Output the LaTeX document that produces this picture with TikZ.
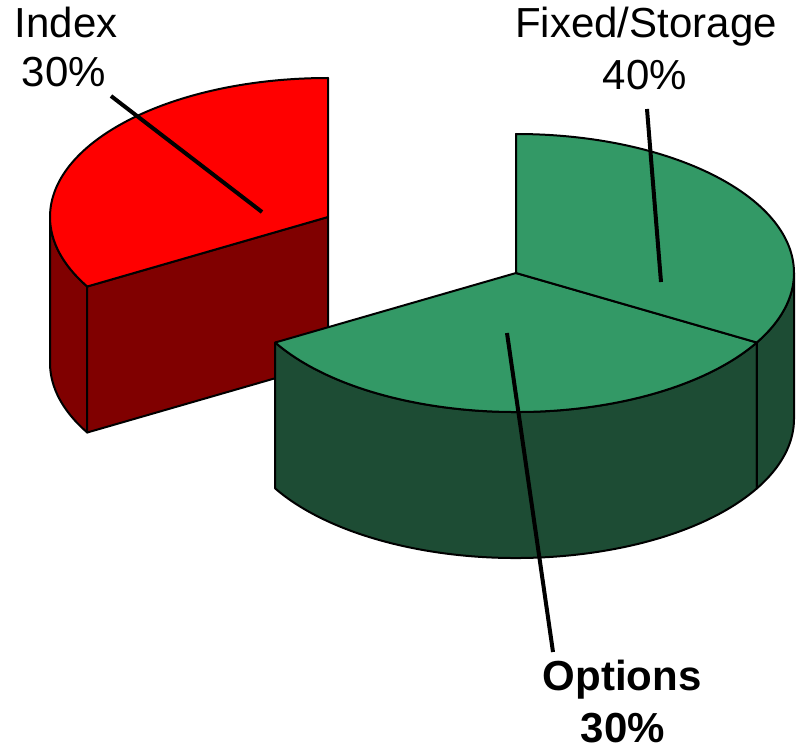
\documentclass[tikz,border=0pt]{standalone}
\usepackage{fontspec}
\setmainfont{Liberation Sans}
\usetikzlibrary{calc}
\definecolor{redtop}{RGB}{255,0,0}
\definecolor{redside}{RGB}{128,0,0}
\definecolor{greentop}{RGB}{51,153,102}
\definecolor{greenside}{RGB}{29,76,52}
\tikzset{
  face/.style={draw=black, line width=2pt, line join=round},
  ell/.style={x radius=278pt, y radius=139pt},
  leader/.style={draw=black, line width=4pt},
  lbl/.style={font=\fontsize{42}{48}\selectfont, anchor=base, inner sep=0pt, text depth=0pt},
  lblb/.style={font=\fontsize{42}{48}\selectfont\bfseries, anchor=base, inner sep=0pt, text depth=0pt},
}
\begin{document}
\begin{tikzpicture}[x=1pt,y=1pt]
\useasboundingbox (0,0) rectangle (798,-749);
% centres
\coordinate (rc) at (328,-217);
\coordinate (gc) at (516,-273);
% rim points
\path (rc) ++(90:278pt and 139pt) coordinate (rT);
\path (rc) ++(180:278pt and 139pt) coordinate (rL);
\path (rc) ++(210:278pt and 139pt) coordinate (rA);
\path (gc) ++(90:278pt and 139pt) coordinate (gT);
\path (gc) ++(210:278pt and 139pt) coordinate (gA);
\path (gc) ++(330:278pt and 139pt) coordinate (gB);
% red slice (Index)
\path[face, fill=redside] (rL) arc[start angle=180, end angle=210, ell]
  -- ++(0,-146) arc[start angle=210, end angle=180, ell] -- cycle;
\path[face, fill=redside] (rA) -- (rc) -- ++(0,-146) -- ($(rA)+(0,-146)$) -- cycle;
\path[face, fill=redtop] (rc) -- (rT) arc[start angle=90, end angle=210, ell] -- cycle;
% green slices
\path[face, fill=greenside] (gA) arc[start angle=210, end angle=330, ell]
  -- ++(0,-146) arc[start angle=330, end angle=210, ell] -- cycle;
\path[face, fill=greenside] (gB) arc[start angle=330, end angle=360, ell]
  -- ++(0,-146) arc[start angle=360, end angle=330, ell] -- cycle;
\path[face, fill=greentop] (gc) -- (gA) arc[start angle=210, end angle=330, ell] -- cycle;
\path[face, fill=greentop] (gc) -- (gT) arc[start angle=90, end angle=-30, ell] -- cycle;
% leaders
\coordinate (idxA) at (111,-96);
\coordinate (idxB) at (262,-212);
\coordinate (fixA) at (647,-109);
\coordinate (fixB) at (661,-282);
\coordinate (optA) at (507,-333);
\coordinate (optB) at (553,-652);
\draw[leader] (idxA) -- (idxB);
\draw[leader] (fixA) -- (fixB);
\draw[leader] (optA) -- (optB);
% labels
\node[lbl] (idx1) at (66,-38) {Index};
\node[lbl] (idx2) at (64,-87) {30\%};
\node[lbl] (fix1) at (646,-38) {Fixed/Storage};
\node[lbl] (fix2) at (645,-90) {40\%};
\node[lblb] (opt1) at (622,-690) {Options};
\node[lblb] (opt2) at (623,-742) {30\%};
\end{tikzpicture}
\end{document}
